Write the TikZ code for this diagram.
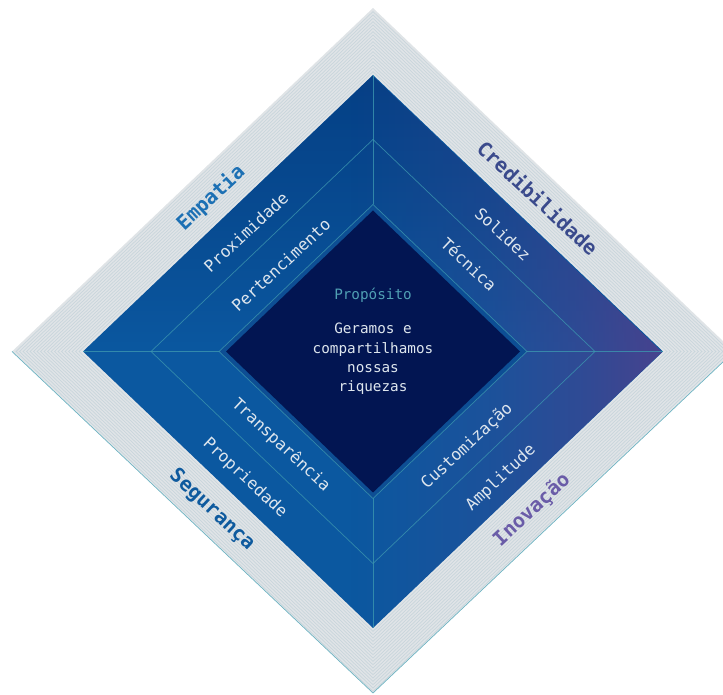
\documentclass[tikz,border=0pt]{standalone}
\usepackage{fontspec}
\setmonofont{DejaVu Sans Mono}
\usetikzlibrary{fadings}
\definecolor{bandgray}{RGB}{224,228,231}
\definecolor{stripecol}{RGB}{200,213,219}
\definecolor{edgeteal}{RGB}{110,180,195}
\definecolor{baseblue}{RGB}{11,88,160}
\definecolor{topdark}{RGB}{0,45,112}
\definecolor{purpleR}{RGB}{78,64,140}
\definecolor{lineteal}{RGB}{60,150,175}
\definecolor{bandblue}{RGB}{13,78,148}
\definecolor{navy}{RGB}{2,21,82}
\definecolor{labtext}{RGB}{222,230,238}
\definecolor{purpose}{RGB}{80,160,180}
\definecolor{cEmp}{RGB}{28,112,180}
\definecolor{cCred}{RGB}{58,74,140}
\definecolor{cSeg}{RGB}{14,90,158}
\definecolor{cInov}{RGB}{106,92,168}
\pgfdeclareverticalshading{shTopX}{100bp}{color(0bp)=(pgftransparent!100); color(50bp)=(pgftransparent!100); color(62bp)=(pgftransparent!70); color(75bp)=(pgftransparent!45); color(100bp)=(pgftransparent!45)}
\pgfdeclarehorizontalshading{shRightX}{100bp}{color(0bp)=(pgftransparent!100); color(48bp)=(pgftransparent!100); color(60bp)=(pgftransparent!75); color(68bp)=(pgftransparent!45); color(75bp)=(pgftransparent!10); color(100bp)=(pgftransparent!10)}
\pgfdeclarefading{fadeTopX}{\pgfuseshading{shTopX}}
\pgfdeclarefading{fadeRightX}{\pgfuseshading{shRightX}}
\tikzset{
  stripe/.style={draw=stripecol, line width=0.7pt},
  thinline/.style={draw=lineteal, line width=0.7pt, draw opacity=0.8},
  bandlab/.style={text=labtext, font=\ttfamily\fontsize{16.3}{16.3}\selectfont, inner sep=0pt},
  outerlab/.style={font=\ttfamily\bfseries\fontsize{20}{20}\selectfont, inner sep=0pt},
}
\begin{document}
\begin{tikzpicture}[x=1pt,y=1pt]
\useasboundingbox (0,0) rectangle (723,695);
\begin{scope}
\clip (0,0) rectangle (723,695);
% outer grey band
\fill[bandgray] (12,343.5) -- (373,687) -- (734,343.5) -- (373,2) -- cycle;
\begin{scope}[shift={(373,343.5)}]
\foreach \w in {294,297.5,...,358}{
  \draw[stripe] (-\w,0) -- (0,{0.952*\w}) -- (\w,0) -- (0,{-0.952*\w}) -- cycle;
}
\end{scope}
\draw[edgeteal, line width=0.7pt] (12,343.5) -- (373,2) -- (734,343.5);
\end{scope}
% blue diamond
\fill[baseblue] (83,343.5) -- (373,620) -- (663,343.5) -- (373,67) -- cycle;
\fill[topdark, path fading=fadeTopX]
  (83,343.5) -- (373,620) -- (663,343.5) -- (373,67) -- cycle;
\fill[purpleR, path fading=fadeRightX]
  (83,343.5) -- (373,620) -- (663,343.5) -- (373,67) -- cycle;
% middle diamond line
\draw[thinline] (151,343.5) -- (373,555.5) -- (595,343.5) -- (373,131.5) -- cycle;
% cross lines
\coordinate (bl) at (83,343.5);
\coordinate (br) at (663,343.5);
\coordinate (bt) at (373,620);
\coordinate (bb) at (373,67);
\coordinate (il) at (219,343.5);
\coordinate (ir) at (527,343.5);
\coordinate (it) at (373,490.5);
\coordinate (ib) at (373,196.5);
\draw[thinline] (bl) -- (il);
\draw[thinline] (br) -- (ir);
\draw[thinline] (bt) -- (it);
\draw[thinline] (bb) -- (ib);
% inner band and core
\fill[bandblue] (il) -- (it) -- (ir) -- (ib) -- cycle;
\draw[thinline] (il) -- (it) -- (ir) -- (ib) -- cycle;
\fill[navy] (226,343.5) -- (373,484.5) -- (520,343.5) -- (373,202.5) -- cycle;
% center text
\node[text=purpose, font=\ttfamily\fontsize{14.3}{14.3}\selectfont, inner sep=0pt] (purp) at (373,400) {Propósito};
\node[text=labtext, font=\ttfamily\fontsize{14.3}{19.4}\selectfont, align=center, inner sep=0pt] (body) at (373,336) {Geramos e\\compartilhamos\\nossas\\riquezas};
% outer labels
\node[outerlab, text=cEmp, rotate=43] (emp) at (211,497) {Empatia};
\node[outerlab, text=cCred, rotate=-43] (cred) at (538,497) {Credibilidade};
\node[outerlab, text=cSeg, rotate=-43] (seg) at (212,185) {Segurança};
\node[outerlab, text=cInov, rotate=43] (inov) at (532,185) {Inovação};
% band labels
\node[bandlab, rotate=43] (prox) at (246,463) {Proximidade};
\node[bandlab, rotate=43] (pert) at (281,430) {Pertencimento};
\node[bandlab, rotate=-43] (sol) at (503,461) {Solidez};
\node[bandlab, rotate=-43] (tec) at (469,431) {Técnica};
\node[bandlab, rotate=-43] (transp) at (281,250) {Transparência};
\node[bandlab, rotate=-43] (prop) at (245,217) {Propriedade};
\node[bandlab, rotate=43] (cust) at (467,249) {Customização};
\node[bandlab, rotate=43] (ampl) at (501,217) {Amplitude};
\end{tikzpicture}
\end{document}
